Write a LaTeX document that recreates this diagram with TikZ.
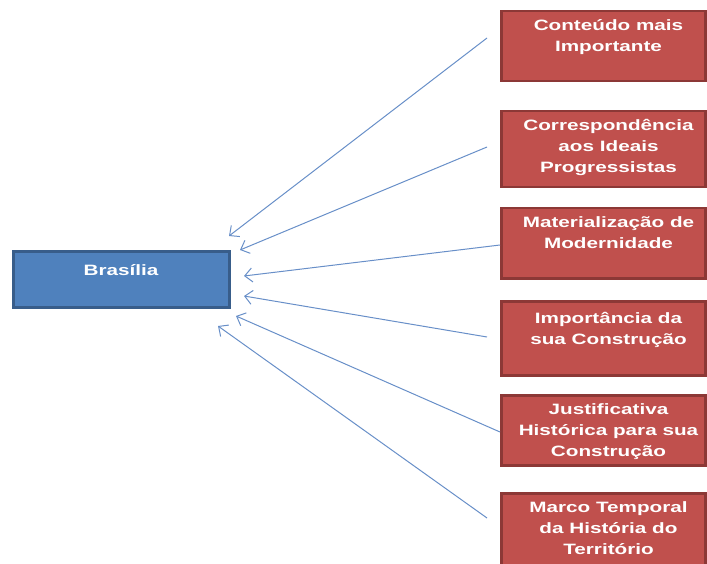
\documentclass[tikz,border=0pt]{standalone}
\usepackage[RGB]{xcolor}
\usepackage{fontspec}
\usetikzlibrary{arrows.meta}
\newfontfamily\boxfont{Liberation Sans}[FakeStretch=1.38]
\definecolor{redfill}{RGB}{192,80,77}
\definecolor{redline}{RGB}{140,56,54}
\definecolor{bluefill}{RGB}{79,129,189}
\definecolor{blueline}{RGB}{56,93,138}
\definecolor{arrowblue}{RGB}{104,143,200}
\tikzset{
  topicbox/.style={draw=redline, fill=redfill, line width=2.5pt, minimum width=204pt, anchor=north, inner sep=0pt},
  mainbox/.style={draw=blueline, fill=bluefill, line width=3pt, minimum width=216pt, minimum height=56pt, anchor=north, inner sep=0pt},
  boxtext/.style={anchor=north, inner sep=0pt, align=center, text=white, font=\boxfont\bfseries\fontsize{15}{21}\selectfont},
  link/.style={draw=arrowblue, line width=1pt, -{Straight Barb[length=7.5pt,width=14pt]}}
}
\newcommand{\topic}[5][5.3]{\node[topicbox, minimum height=#4] (#2) at (603.5,#3) {};
  \node[boxtext, xshift=5pt, yshift=-#1pt] (#2-text) at (#2.north) {\strut #5};}
\begin{document}
\begin{tikzpicture}[x=1pt,y=-1pt]
\useasboundingbox (0,0) rectangle (707,564);
\node[mainbox] (brasilia) at (121,250) {};
\node[boxtext, yshift=-10.3pt] (brasilia-text) at (brasilia.north) {\strut Brasília};
\topic{conteudo}{10}{70pt}{Conteúdo mais\\Importante}
\topic{ideais}{110}{76pt}{Correspondência\\aos Ideais\\Progressistas}
\topic{modern}{207}{70pt}{Materialização de\\Modernidade}
\topic[8.5]{importancia}{300}{74pt}{Importância da\\sua Construção}
\topic{justif}{394}{70pt}{Justificativa\\Histórica para sua\\Construção}
\topic{marco}{492}{90pt}{Marco Temporal\\da História do\\Território}
% arrow ends
\coordinate (s1) at (487,38);  \coordinate (e1) at (229,236);
\coordinate (s2) at (487,147); \coordinate (e2) at (240,250);
\coordinate (s3) at (500,245); \coordinate (e3) at (244,276);
\coordinate (s4) at (487,337); \coordinate (e4) at (244,296);
\coordinate (s5) at (500,432); \coordinate (e5) at (236,316);
\coordinate (s6) at (487,518); \coordinate (e6) at (218,326);
\foreach \i in {1,...,6}{
  \draw[link] (s\i) -- (e\i);
}
\end{tikzpicture}
\end{document}
